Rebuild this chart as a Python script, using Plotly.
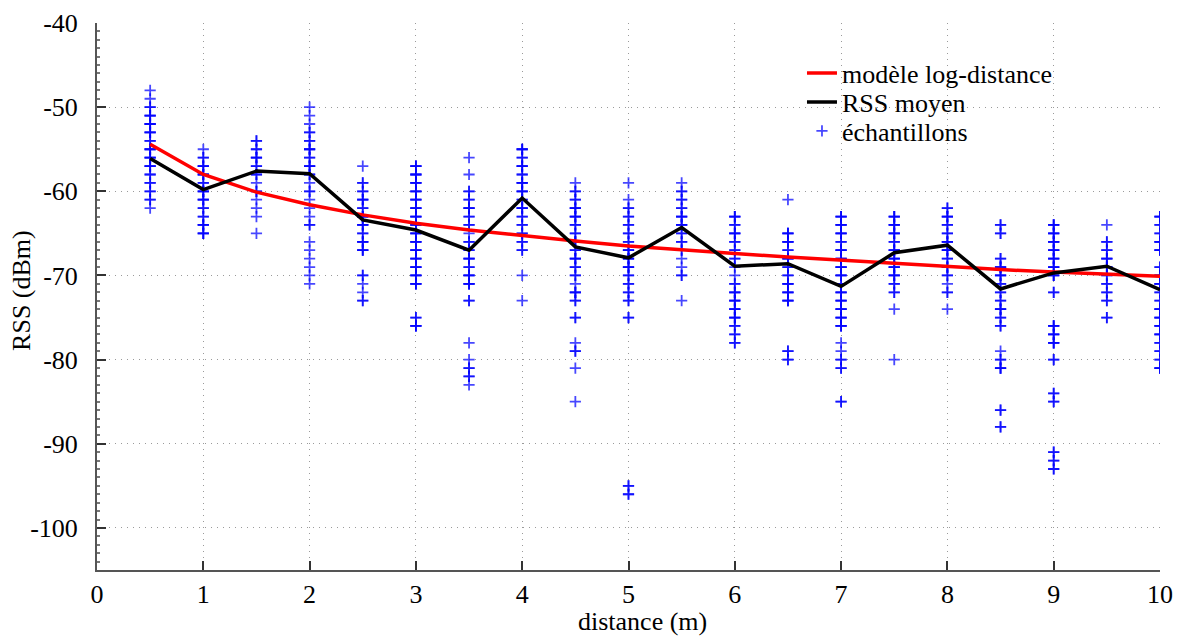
import plotly.graph_objects as go

# distances (m)
distances = [0.5, 1, 1.5, 2, 2.5, 3, 3.5, 4, 4.5, 5, 5.5, 6, 6.5, 7, 7.5, 8, 8.5, 9, 9.5, 10]

# mean RSS (dBm) per distance
rss_mean = [-56.1, -59.8, -57.6, -57.9, -63.4, -64.6, -67.0, -60.8, -66.6, -67.9,
            -64.3, -68.9, -68.6, -71.3, -67.3, -66.4, -71.6, -69.7, -68.9, -71.7]

# log-distance model (dBm) per distance
rss_model = [-54.4, -58.0, -60.1, -61.6, -62.8, -63.8, -64.6, -65.3, -65.9, -66.5,
             -67.0, -67.4, -67.8, -68.2, -68.6, -68.9, -69.3, -69.6, -69.8, -70.1]

# individual samples: observed values per distance, and how many times each appears
sample_values = [
    [-48, -49, -50, -51, -52, -53, -54, -55, -56, -57, -58, -59, -60, -61, -62],
    [-55, -56, -57, -58, -59, -60, -61, -62, -63, -64, -65],
    [-54, -55, -56, -57, -58, -59, -60, -61, -62, -63, -65],
    [-50, -51, -52, -53, -54, -55, -56, -57, -58, -59, -60, -61, -62, -63, -64, -66, -67, -68, -69, -70, -71],
    [-57, -59, -60, -61, -62, -63, -64, -65, -66, -67, -70, -71, -72, -73],
    [-57, -58, -59, -60, -61, -62, -63, -64, -65, -66, -67, -68, -69, -70, -71, -75, -76],
    [-56, -58, -60, -61, -62, -63, -64, -65, -66, -67, -68, -69, -70, -71, -73, -78, -80, -81, -82, -83],
    [-55, -56, -57, -58, -59, -60, -61, -62, -63, -64, -65, -66, -67, -70, -73],
    [-59, -60, -61, -62, -63, -64, -65, -66, -67, -68, -69, -70, -71, -72, -73, -75, -78, -79, -81, -85],
    [-59, -61, -62, -63, -64, -65, -66, -67, -68, -69, -70, -71, -72, -73, -75, -95, -96],
    [-59, -60, -61, -62, -63, -64, -65, -66, -67, -68, -69, -70, -73],
    [-63, -64, -65, -66, -67, -68, -69, -70, -71, -72, -73, -74, -75, -76, -77, -78],
    [-61, -65, -66, -67, -68, -69, -70, -71, -72, -73, -79, -80],
    [-63, -64, -65, -66, -67, -68, -69, -70, -71, -72, -73, -74, -75, -76, -78, -79, -80, -81, -85],
    [-63, -64, -65, -66, -67, -68, -69, -70, -71, -72, -74, -80],
    [-62, -63, -64, -65, -66, -67, -68, -69, -70, -71, -72, -74],
    [-64, -65, -68, -69, -70, -71, -72, -73, -74, -75, -76, -79, -80, -81, -86, -88],
    [-64, -65, -66, -67, -68, -69, -70, -72, -76, -77, -78, -80, -84, -85, -91, -92, -93],
    [-64, -66, -67, -68, -69, -70, -71, -72, -73, -75],
    [-63, -64, -65, -66, -67, -69, -70, -71, -72, -73, -74, -75, -76, -77, -78, -79, -80, -81],
]
sample_counts = [
    [1, 1, 2, 3, 3, 3, 2, 3, 3, 3, 2, 2, 2, 2, 1],
    [1, 2, 3, 3, 2, 3, 3, 2, 2, 3, 3],
    [2, 2, 3, 2, 2, 1, 2, 1, 1, 1, 1],
    [1, 1, 1, 2, 2, 3, 2, 3, 2, 1, 2, 1, 1, 1, 2, 1, 1, 1, 1, 1, 1],
    [1, 2, 2, 3, 2, 3, 3, 2, 3, 3, 2, 1, 1, 2],
    [3, 3, 3, 3, 3, 3, 3, 3, 3, 3, 3, 3, 3, 3, 3, 2, 3],
    [1, 1, 2, 2, 3, 2, 2, 1, 2, 2, 3, 2, 3, 3, 2, 1, 1, 2, 2, 1],
    [3, 2, 3, 2, 3, 3, 2, 3, 2, 2, 2, 2, 2, 1, 1],
    [1, 2, 2, 3, 3, 2, 2, 3, 2, 3, 2, 2, 1, 3, 2, 2, 1, 2, 1, 1],
    [1, 1, 2, 2, 2, 2, 2, 3, 3, 3, 2, 2, 2, 2, 2, 2, 2],
    [1, 2, 2, 2, 3, 3, 2, 2, 2, 1, 1, 2, 1],
    [3, 2, 3, 2, 2, 2, 1, 1, 2, 3, 3, 3, 3, 2, 2, 2],
    [1, 3, 3, 2, 3, 2, 2, 3, 3, 3, 2, 2],
    [3, 3, 3, 2, 3, 3, 3, 3, 2, 3, 3, 3, 3, 3, 1, 1, 2, 2, 2],
    [3, 3, 3, 2, 3, 3, 3, 3, 2, 2, 1, 1],
    [2, 3, 2, 2, 3, 3, 2, 3, 2, 1, 2, 1],
    [2, 2, 2, 3, 3, 2, 2, 2, 3, 2, 2, 1, 2, 3, 2, 2],
    [3, 3, 3, 3, 3, 3, 3, 2, 3, 3, 3, 2, 2, 2, 2, 2, 2],
    [1, 2, 2, 3, 3, 2, 2, 2, 2, 2],
    [3, 2, 2, 3, 3, 2, 3, 3, 2, 2, 3, 3, 3, 3, 2, 2, 2, 3],
]

x_ticks = [0, 1, 2, 3, 4, 5, 6, 7, 8, 9, 10]
y_ticks = [-40, -50, -60, -70, -80, -90, -100]

# expand samples
sx, sy = [], []
for d, vals, cnts in zip(distances, sample_values, sample_counts):
    for v, c in zip(vals, cnts):
        sx.extend([d] * c)
        sy.extend([v] * c)

FONT = "Liberation Serif"

fig = go.Figure()
fig.add_trace(go.Scatter(
    x=sx, y=sy, mode="markers", name="échantillons", legend="legend3",
    marker=dict(symbol="cross-thin", size=8,
                line=dict(color="rgba(0,0,255,0.72)", width=1.8)),
))
fig.add_trace(go.Scatter(
    x=distances, y=rss_model, mode="lines", name="modèle log-distance", legend="legend",
    line=dict(color="#ff0000", width=3.5),
))
fig.add_trace(go.Scatter(
    x=distances, y=rss_mean, mode="lines", name="RSS moyen", legend="legend2",
    line=dict(color="#000000", width=3.5),
))

axis_common = dict(
    showline=True, linecolor="#555555", linewidth=2,
    ticks="inside", ticklen=9, tickwidth=1.5, tickcolor="#333333",
    showgrid=True, gridcolor="#9a9a9a", griddash="1px,5px", gridwidth=1.2,
    zeroline=False, mirror=False, automargin=False,
    tickfont=dict(family=FONT, size=26, color="black"),
)

leg_common = dict(xanchor="left", yanchor="middle", bgcolor="rgba(0,0,0,0)", borderwidth=0,
                  font=dict(family=FONT, size=26, color="black"), itemwidth=30)

fig.update_layout(
    width=1189, height=637,
    margin=dict(l=97, r=29, t=23, b=67, autoexpand=False),
    paper_bgcolor="white", plot_bgcolor="white",
    font=dict(family=FONT, size=26, color="black"),
    showlegend=True,
    legend=dict(x=0.6632, y=0.9086, **leg_common),
    legend2=dict(x=0.6632, y=0.8556, **leg_common),
    legend3=dict(x=0.6632, y=0.8026, **leg_common),
    xaxis=dict(range=[0, 10], tickvals=x_ticks, ticktext=[str(v) for v in x_ticks],
               **axis_common),
    yaxis=dict(range=[-105, -40], tickvals=y_ticks, ticktext=[str(v) for v in y_ticks],
               ticklabelstandoff=12,
               minor=dict(ticks="inside", ticklen=3, dtick=1, tickcolor="#777777", showgrid=False),
               **axis_common),
    shapes=[
        # white key box hiding the grid behind the legend
        dict(type="rect", xref="paper", yref="paper", x0=0.633, x1=0.930, y0=0.777, y1=0.947,
             fillcolor="white", line=dict(width=0), layer="between"),
    ],
    annotations=[
        dict(text="distance (m)", xref="paper", yref="paper", x=0.5127, y=-0.095,
             xanchor="center", yanchor="middle", showarrow=False,
             font=dict(family=FONT, size=26, color="black")),
        dict(text="RSS (dBm)", xref="paper", yref="paper", x=-0.0706, y=0.512,
             xanchor="center", yanchor="middle", showarrow=False, textangle=-90,
             font=dict(family=FONT, size=26, color="black")),
    ],
)

fig.write_html("out.html", config={"displayModeBar": False},
               post_script="document.body.style.margin='0';")
